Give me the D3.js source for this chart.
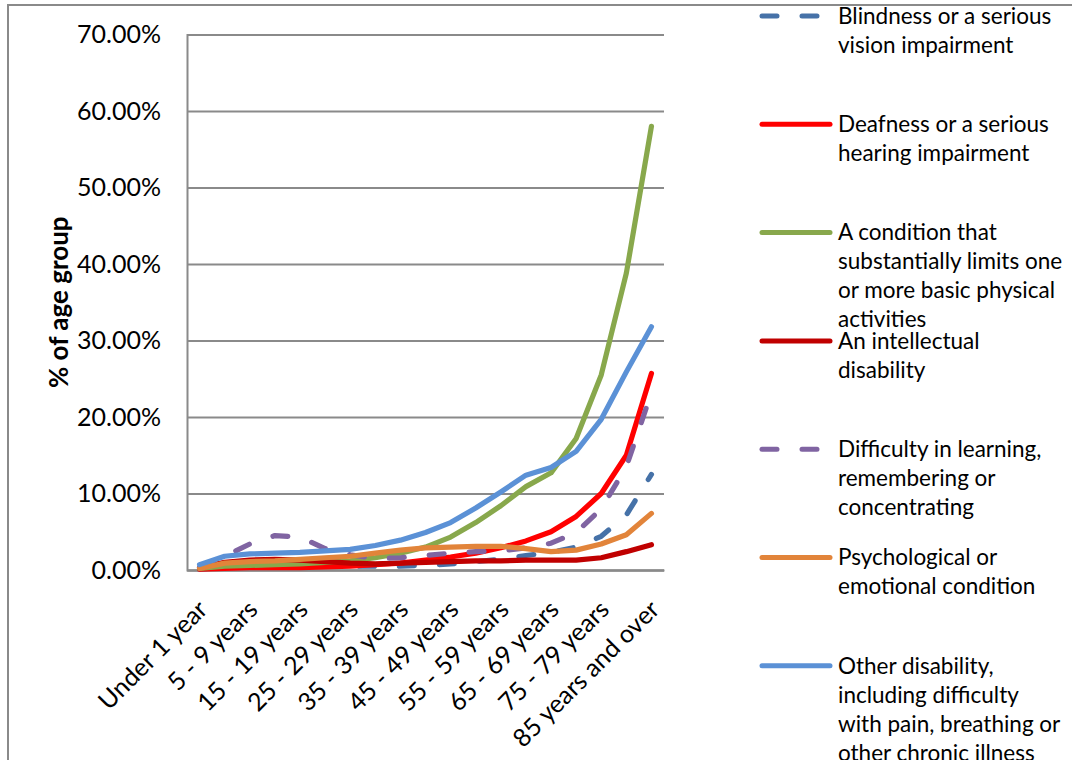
<!DOCTYPE html>
<html>
<head>
<meta charset="utf-8">
<script src="https://cdn.jsdelivr.net/npm/d3@7"></script>
<style>
  html, body { margin: 0; padding: 0; background: #fff; }
  svg { display: block; font-family: Lato, "Open Sans", sans-serif; }
</style>
</head>
<body>
<svg id="chart" width="1072" height="760"></svg>
<script>
// Age groups (every other one is labelled on the axis)
const ageGroups = [
  "Under 1 year", "1 - 4 years", "5 - 9 years", "10 - 14 years", "15 - 19 years",
  "20 - 24 years", "25 - 29 years", "30 - 34 years", "35 - 39 years", "40 - 44 years",
  "45 - 49 years", "50 - 54 years", "55 - 59 years", "60 - 64 years", "65 - 69 years",
  "70 - 74 years", "75 - 79 years", "80 - 84 years", "85 years and over"
];

// Share of each age group reporting the disability type (%)
const vision       = [0.1, 0.4, 0.6, 0.6, 0.5, 0.5, 0.5, 0.5, 0.5, 0.6, 0.8, 1.1, 1.4, 1.9, 2.3, 3.0, 4.4, 7.2, 12.5];
const hearing      = [0.1, 0.2, 0.3, 0.3, 0.3, 0.4, 0.5, 0.7, 0.9, 1.3, 1.7, 2.2, 2.9, 3.8, 5.0, 7.0, 10.0, 15.0, 25.7];
const physical     = [0.2, 0.5, 0.6, 0.7, 0.8, 1.0, 1.2, 1.6, 2.2, 3.0, 4.3, 6.2, 8.4, 10.9, 12.7, 17.2, 25.5, 38.8, 58.0];
const intellectual = [0.3, 1.0, 1.3, 1.4, 1.3, 1.1, 0.9, 0.8, 0.9, 1.0, 1.1, 1.2, 1.2, 1.3, 1.3, 1.3, 1.6, 2.4, 3.3];
const learning     = [0.3, 1.8, 3.4, 4.5, 4.3, 2.8, 2.0, 1.5, 1.6, 1.9, 2.2, 2.4, 2.5, 2.9, 3.5, 4.9, 8.0, 13.5, 23.2];
const psychological= [0.2, 0.9, 1.1, 1.2, 1.4, 1.6, 1.8, 2.2, 2.6, 2.9, 3.0, 3.1, 3.1, 2.8, 2.4, 2.6, 3.4, 4.6, 7.4];
const other        = [0.7, 1.8, 2.1, 2.2, 2.3, 2.5, 2.7, 3.2, 3.9, 4.9, 6.2, 8.1, 10.2, 12.4, 13.4, 15.5, 19.7, 25.9, 31.8];

const yTicks = [0, 0.1, 0.2, 0.3, 0.4, 0.5, 0.6, 0.7];

const series = [
  { name: ["Blindness or a serious", "vision impairment"], values: vision, color: "#4672A8", dashed: true },
  { name: ["Deafness or a serious", "hearing impairment"], values: hearing, color: "#FF0000" },
  { name: ["A condition that", "substantially limits one", "or more basic physical", "activities"], values: physical, color: "#88A84C" },
  { name: ["An intellectual", "disability"], values: intellectual, color: "#C00000" },
  { name: ["Difficulty in learning,", "remembering or", "concentrating"], values: learning, color: "#8064A2", dashed: true },
  { name: ["Psychological or", "emotional condition"], values: psychological, color: "#E2843A" },
  { name: ["Other disability,", "including difficulty", "with pain, breathing or", "other chronic illness"], values: other, color: "#5B91D6" }
];

const svg = d3.select("#chart");
const plot = { left: 187, right: 664, top: 34.5, bottom: 570 };

// Outer chart frame
svg.append("path")
  .attr("d", `M8,760 V5 H1072`)
  .attr("fill", "none").attr("stroke", "#8a8a8a").attr("stroke-width", 2);

const x = d3.scalePoint().domain(ageGroups).range([plot.left, plot.right]).padding(0.5);
const y = d3.scaleLinear().domain([0, 0.7]).range([plot.bottom, plot.top]);

// Horizontal gridlines and percentage labels
const yAxis = d3.axisLeft(y).tickValues(yTicks).tickFormat(d3.format(".2%"))
  .tickSize(-(plot.right - plot.left)).tickPadding(26);
const gy = svg.append("g").attr("transform", `translate(${plot.left},0)`).call(yAxis);
gy.select(".domain").attr("stroke", "#8a8a8a").attr("stroke-width", 2);
gy.selectAll(".tick line").attr("stroke", "#8a8a8a").attr("stroke-width", 2);
gy.selectAll(".tick text").attr("fill", "#000").attr("font-size", 25)
  .attr("font-family", "Lato, sans-serif");

// Category axis, labelled at every second group
const xAxis = d3.axisBottom(x).tickSize(0)
  .tickFormat((d, i) => i % 2 === 0 ? d : "");
const gx = svg.append("g").attr("transform", `translate(0,${plot.bottom})`).call(xAxis);
gx.select(".domain").attr("stroke", "#8a8a8a").attr("stroke-width", 2);
gx.selectAll(".tick text")
  .attr("fill", "#000").attr("font-size", 25).attr("font-family", "Lato, sans-serif")
  .attr("text-anchor", "end")
  .attr("dy", null).attr("y", 0)
  .attr("transform", "translate(9,41) rotate(-45)");

// Axis title
svg.append("text")
  .attr("transform", `translate(68,${(plot.top + plot.bottom) / 2}) rotate(-90)`)
  .attr("text-anchor", "middle").attr("font-weight", "bold").attr("font-size", 26)
  .attr("font-family", "Lato, sans-serif")
  .text("% of age group");

// Series lines
const line = d3.line()
  .x((d, i) => x(ageGroups[i]))
  .y(d => y(d / 100));

svg.append("g").selectAll("path").data(series).join("path")
  .attr("d", s => line(s.values))
  .attr("fill", "none")
  .attr("stroke", s => s.color)
  .attr("stroke-width", 5.2)
  .attr("stroke-linecap", "round")
  .attr("stroke-linejoin", "round")
  .attr("stroke-dasharray", s => s.dashed ? "15,25" : null);

// Legend
const legend = svg.append("g");
const itemStep = 108.3, lineGap = 29, legendTop = 16;
series.forEach((s, k) => {
  const yy = legendTop + k * itemStep;
  legend.append("line")
    .attr("x1", 762).attr("x2", 830).attr("y1", yy).attr("y2", yy)
    .attr("stroke", s.color).attr("stroke-width", 5).attr("stroke-linecap", "round")
    .attr("stroke-dasharray", s.dashed ? "15,25" : null);
  const t = legend.append("text")
    .attr("x", 838).attr("y", yy).attr("font-size", 22.5).attr("font-family", "Lato, sans-serif")
    .attr("fill", "#000");
  s.name.forEach((ln, j) => {
    t.append("tspan").attr("x", 838).attr("y", yy + j * lineGap).attr("dy", "0.35em").text(ln);
  });
});
</script>
</body>
</html>
